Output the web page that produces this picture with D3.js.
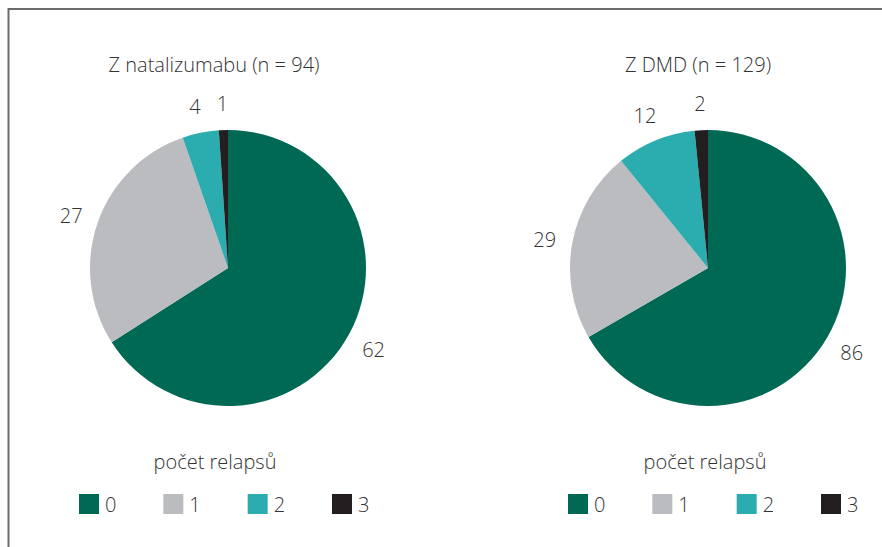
<!DOCTYPE html>
<html lang="cs">
<head>
  <meta charset="UTF-8">
  <title>Počet relapsů</title>
  <style>
    body { margin: 0; background: #fff; }
    svg text { font-family: "Open Sans", sans-serif; font-weight: 300; fill: #333; }
  </style>
</head>
<body>
<script src="https://d3js.org/d3.v7.min.js"></script>
<script>
  // Data
  const categories = ['0', '1', '2', '3'];
  const natalizumabValues = [62, 27, 4, 1];
  const dmdValues = [86, 29, 12, 2];
  const panelTitles = ['Z natalizumabu (n = 94)', 'Z DMD (n = 129)'];
  const legendTitle = 'počet relapsů';
  const colors = ['#006953', '#bbbcc0', '#2badb0', '#231f20'];

  const width = 882, height = 547;
  const radius = 138;

  const svg = d3.select('body').append('svg')
    .attr('width', width)
    .attr('height', height);

  // frame (top + left edges only)
  svg.append('path')
    .attr('d', 'M8.5,' + height + 'V9H' + width)
    .attr('fill', 'none')
    .attr('stroke', '#6b6b6b')
    .attr('stroke-width', 2);

  const color = d3.scaleOrdinal().domain(categories).range(colors);

  const pie = d3.pie().sort(null).value(d => d.value);
  const arc = d3.arc().innerRadius(0).outerRadius(radius);
  const labelArc = d3.arc().innerRadius(166).outerRadius(166);

  const panels = [
    { values: natalizumabValues, title: panelTitles[0], cx: 228, titleX: 214, legendX: 79, legendTitleX: 215 },
    { values: dmdValues, title: panelTitles[1], cx: 708, titleX: 698, legendX: 568, legendTitleX: 705 }
  ];

  panels.forEach(p => {
    const data = categories.map((c, i) => ({ cat: c, value: p.values[i] }));
    const g = svg.append('g');

    g.append('text')
      .attr('x', p.titleX)
      .attr('y', 72)
      .attr('text-anchor', 'middle')
      .style('font-size', '20px')
      .text(p.title);

    const pg = g.append('g').attr('transform', 'translate(' + p.cx + ',268)');
    const arcs = pie(data);

    pg.selectAll('path')
      .data(arcs)
      .enter()
      .append('path')
      .attr('d', arc)
      .attr('fill', d => color(d.data.cat));

    pg.selectAll('text')
      .data(arcs)
      .enter()
      .append('text')
      .attr('transform', d => 'translate(' + labelArc.centroid(d) + ')')
      .attr('text-anchor', 'middle')
      .attr('dy', '0.45em')
      .style('font-size', '20px')
      .text(d => d.data.value);

    // legend
    g.append('text')
      .attr('x', p.legendTitleX)
      .attr('y', 469)
      .attr('text-anchor', 'middle')
      .style('font-size', '20px')
      .text(legendTitle);

    const lx = d3.scalePoint().domain(categories).range([p.legendX, p.legendX + 253]);
    const items = g.selectAll('.legend-item')
      .data(categories)
      .enter()
      .append('g')
      .attr('class', 'legend-item')
      .attr('transform', d => 'translate(' + lx(d) + ',494)');

    items.append('rect')
      .attr('width', 20)
      .attr('height', 20)
      .attr('fill', d => color(d));

    items.append('text')
      .attr('x', 26)
      .attr('y', 18)
      .style('font-size', '20px')
      .text(d => d);
  });
</script>
</body>
</html>
